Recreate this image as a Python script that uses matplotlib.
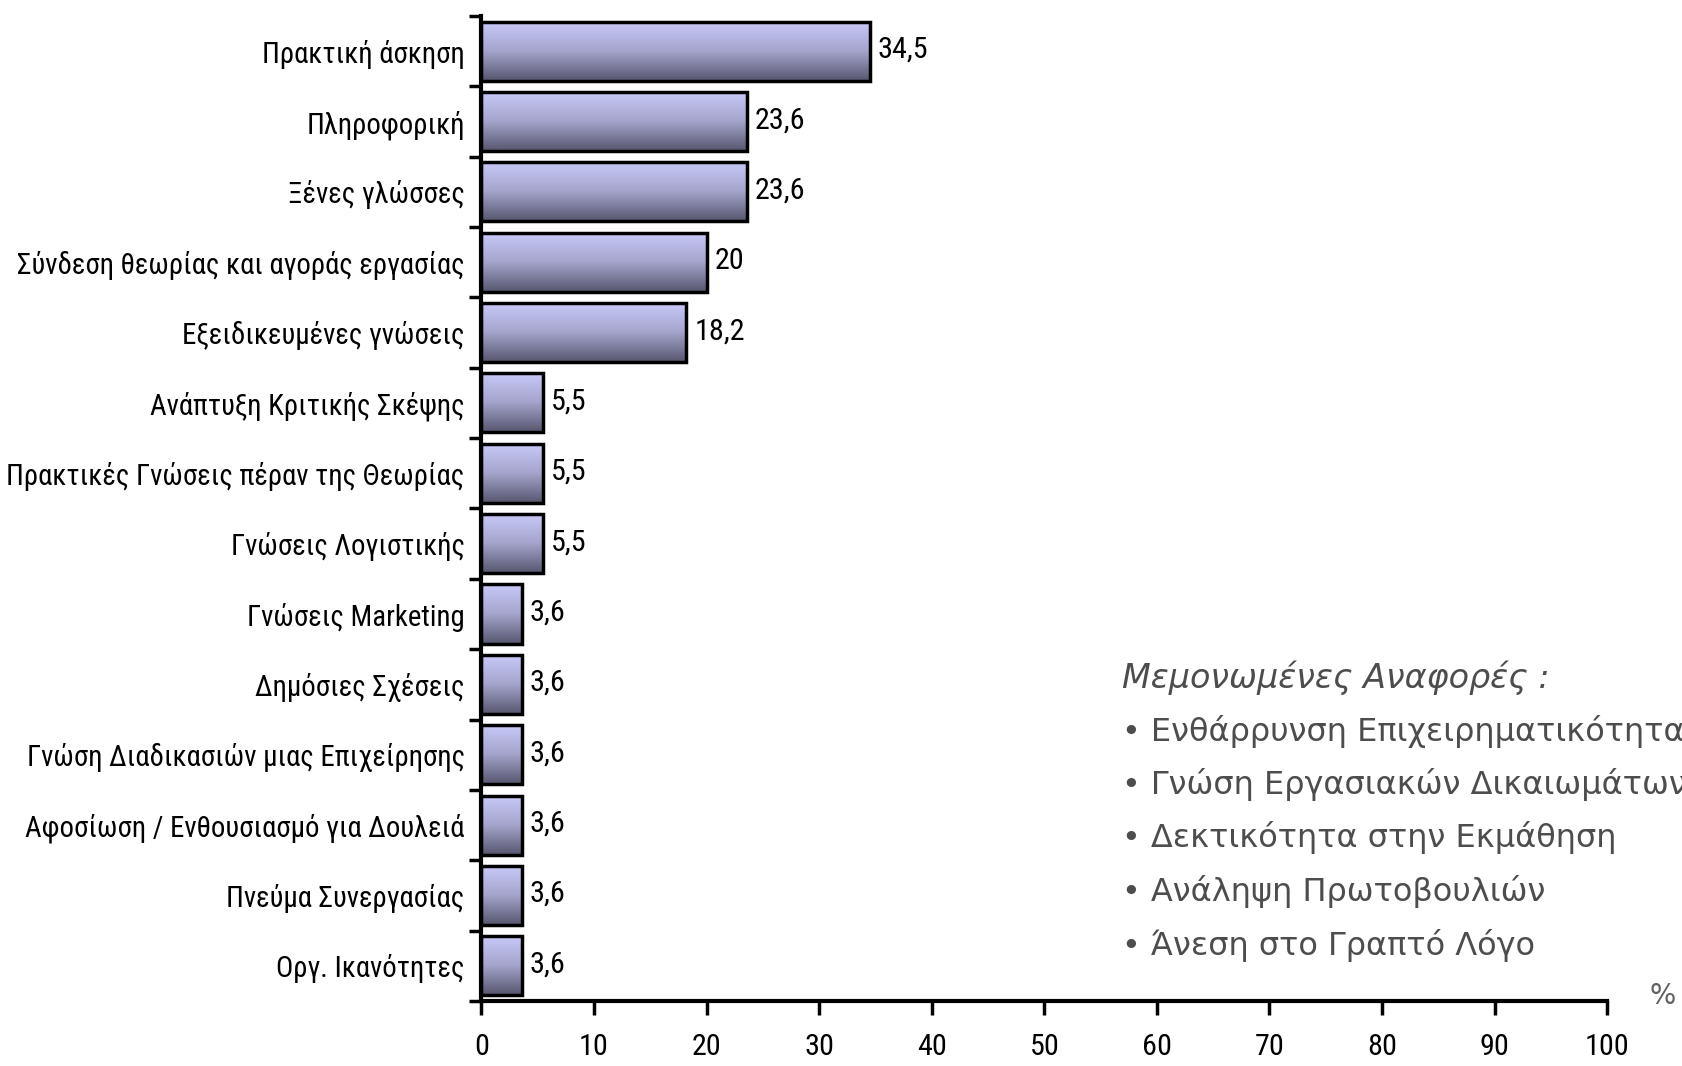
import numpy as np
import matplotlib.pyplot as plt
from matplotlib import font_manager
from matplotlib.colors import LinearSegmentedColormap

categories = ["Πρακτική άσκηση", "Πληροφορική", "Ξένες γλώσσες",
              "Σύνδεση θεωρίας και αγοράς εργασίας", "Εξειδικευμένες γνώσεις",
              "Ανάπτυξη Κριτικής Σκέψης", "Πρακτικές Γνώσεις πέραν της Θεωρίας",
              "Γνώσεις Λογιστικής", "Γνώσεις Marketing", "Δημόσιες Σχέσεις",
              "Γνώση Διαδικασιών μιας Επιχείρησης",
              "Αφοσίωση / Ενθουσιασμό για Δουλειά", "Πνεύμα Συνεργασίας",
              "Οργ. Ικανότητες"]
values = [34.5, 23.6, 23.6, 20, 18.2, 5.5, 5.5, 5.5, 3.6, 3.6, 3.6, 3.6, 3.6, 3.6]
value_labels = ["34,5", "23,6", "23,6", "20", "18,2", "5,5", "5,5", "5,5",
                "3,6", "3,6", "3,6", "3,6", "3,6", "3,6"]
xticks = [0, 10, 20, 30, 40, 50, 60, 70, 80, 90, 100]
notes_title = "Μεμονωμένες Αναφορές :"
notes = ["Ενθάρρυνση Επιχειρηματικότητας", "Γνώση Εργασιακών Δικαιωμάτων",
         "Δεκτικότητα στην Εκμάθηση", "Ανάληψη Πρωτοβουλιών",
         "Άνεση στο Γραπτό Λόγο"]

# pick a narrow font if one is installed, otherwise Liberation Sans
narrow = 'Liberation Sans'
for cand in ['Liberation Sans Narrow', 'DejaVu Sans Condensed', 'Roboto Condensed']:
    try:
        font_manager.findfont(cand, fallback_to_default=False)
        narrow = cand
        break
    except Exception:
        pass

fig = plt.figure(figsize=(16.83, 10.66), dpi=100)
ax = fig.add_axes([0.286, 0.061, 0.669, 0.924])

# size the label font so the longest label is about as wide as in the source
renderer = fig.canvas.get_renderer()
t = fig.text(0, 0, categories[3], fontsize=20, family=narrow)
w = t.get_window_extent(renderer).width
t.remove()
fs = min(23, 20 * 448 / w)

n = len(categories)
ypos = np.arange(n)[::-1]
h = 0.84

cmap = LinearSegmentedColormap.from_list("bar", ["#cacafb", "#a4a4cc", "#56566f"])
grad = np.linspace(0, 1, 256).reshape(-1, 1)

for y, v in zip(ypos, values):
    ax.imshow(grad, cmap=cmap, aspect='auto', origin='upper',
              extent=[0, v, y - h / 2, y + h / 2], zorder=2)
ax.barh(ypos, values, height=h, facecolor='none', edgecolor='black',
        linewidth=2.5, zorder=3)

for y, v, lab in zip(ypos, values, value_labels):
    ax.text(v + 0.7, y + 0.02, lab, va='center', ha='left', fontsize=fs + 1,
            family=narrow)

ax.set_xlim(0, 100)
ax.set_ylim(-0.5, n - 0.5)

ax.set_yticks(np.arange(n + 1) - 0.5)
ax.set_yticklabels([])
ax.set_yticks(ypos, minor=True)
ax.set_yticklabels(categories, minor=True, fontsize=fs, family=narrow)
ax.tick_params(axis='y', which='minor', length=0, pad=12)
ax.tick_params(axis='y', which='major', length=9, width=2.5)

ax.set_xticks(xticks)
ax.set_xticklabels([str(t) for t in xticks], fontsize=fs + 1, family=narrow)
ax.tick_params(axis='x', length=10, width=2.5, pad=13)

for s in ['top', 'right']:
    ax.spines[s].set_visible(False)
for s in ['left', 'bottom']:
    ax.spines[s].set_linewidth(3)

fig.text(1122 / 1683, 1 - 678 / 1066, notes_title, fontsize=24, style='italic',
         color='#4d4d4d', va='center', ha='left', family='DejaVu Sans')
for i, t in enumerate(notes):
    fig.text(1122 / 1683, 1 - (731 + i * 53.5) / 1066, "• " + t, fontsize=23,
             color='#4d4d4d', va='center', ha='left', family='DejaVu Sans')
fig.text(1663 / 1683, 1 - 996 / 1066, "%", fontsize=20, color='#606060',
         va='center', ha='center')

fig.savefig("out.png", dpi=100)
